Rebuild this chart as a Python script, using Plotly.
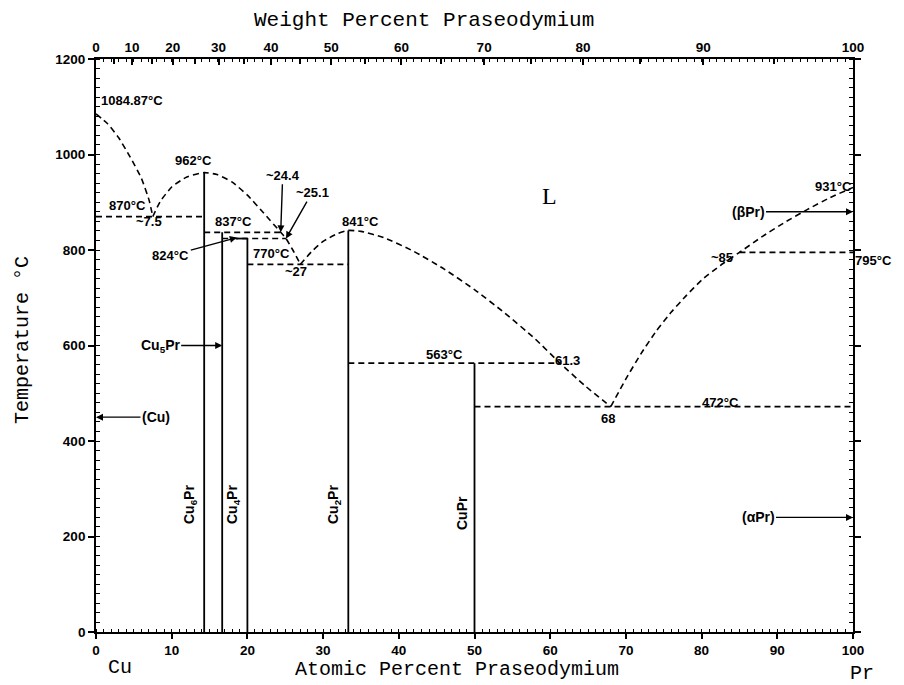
import plotly.graph_objects as go

# ---------------- data ----------------
M_CU, M_PR = 63.546, 140.908

liq1_x = [0, 1.5, 3, 4.5, 6, 7, 7.5]
liq1_T = [1084.87, 1065, 1035, 995, 950, 905, 870]
liq2_x = [7.5, 8.5, 10, 12, 14.29, 16, 18, 20, 22, 24.4, 25.1, 26, 27]
liq2_T = [870, 902, 932, 953, 962, 958, 942, 915, 880, 837, 824, 800, 770]
liq3_x = [27, 28.5, 30, 32, 33.33, 35, 38, 42, 46, 50, 54, 58, 61.3, 64.5, 68]
liq3_T = [770, 797, 818, 835, 841, 839, 826, 797, 760, 717, 668, 614, 563, 517, 472]
liq4_x = [68, 70, 72, 74, 76, 78, 80, 82.5, 85, 88, 91, 94, 97, 100]
liq4_T = [472, 530, 583, 630, 670, 705, 737, 768, 795, 828, 858, 885, 910, 931]

iso_T = [870, 837, 824, 770, 563, 472, 795]
iso_x0 = [0, 14.29, 16.67, 20, 33.33, 50, 85]
iso_x1 = [14.29, 24.4, 25.1, 33.33, 61.3, 100, 100]

comp_names = ["Cu<sub>6</sub>Pr", "Cu<sub>5</sub>Pr", "Cu<sub>4</sub>Pr", "Cu<sub>2</sub>Pr", "CuPr"]
comp_x = [14.29, 16.67, 20, 33.33, 50]
comp_top = [962, 837, 824, 841, 563]

cap_x = [18.5, 20]
cap_T = [824, 824]

at_ticks = list(range(0, 101, 10))
wt_major = list(range(0, 101, 10))
wt_medium = list(range(5, 100, 10))
y_ticks = list(range(0, 1201, 200))

# ---------------- helpers ----------------
OFF = 8  # page body margin
WIN_W, WIN_H = 904, 685
W, H = WIN_W - OFF, WIN_H - OFF
# desired plot box in window pixels: left 96, right 853, top 59, bottom 632
L = 96 - OFF
T = 59 - OFF
R = (OFF + W) - 853
B = (OFF + H) - 632
PW, PH = W - L - R, H - T - B


def wt_to_at(w):
    if w >= 100:
        return 100.0
    a = w / M_PR
    c = (100 - w) / M_CU
    return 100 * a / (a + c)


def px(xp):
    return (xp - OFF - L) / PW


def py(yp):
    return (OFF + H - B - yp) / PH


fig = go.Figure()
dash = "6px,4px"
lw = 1.6

for xs, ts in [(liq1_x, liq1_T), (liq2_x, liq2_T), (liq3_x, liq3_T), (liq4_x, liq4_T)]:
    fig.add_trace(go.Scatter(x=xs, y=ts, mode="lines", line=dict(color="black", width=lw, dash=dash,
                                                                     shape="spline", smoothing=0.5),
                             showlegend=False, hoverinfo="skip"))

ix, iy = [], []
for t, a, b in zip(iso_T, iso_x0, iso_x1):
    ix += [a, b, None]
    iy += [t, t, None]
fig.add_trace(go.Scatter(x=ix, y=iy, mode="lines", line=dict(color="black", width=lw, dash=dash),
                         showlegend=False, hoverinfo="skip"))

vx, vy = [], []
for xc, tt in zip(comp_x, comp_top):
    vx += [xc, xc, None]
    vy += [0, tt, None]
vx += cap_x + [None]
vy += cap_T + [None]
fig.add_trace(go.Scatter(x=vx, y=vy, mode="lines", line=dict(color="black", width=1.8),
                         showlegend=False, hoverinfo="skip"))

# dummy traces for the overlaying top/right axes
fig.add_trace(go.Scatter(x=[0, 100], y=[0, 1200], xaxis="x2", yaxis="y2", mode="markers",
                         marker=dict(opacity=0), showlegend=False, hoverinfo="skip"))
fig.add_trace(go.Scatter(x=[0, 100], y=[0, 1200], xaxis="x3", yaxis="y2", mode="markers",
                         marker=dict(opacity=0), showlegend=False, hoverinfo="skip"))

tickfont = dict(family="Liberation Sans", size=13.5, color="black", weight="bold")
axline = dict(showline=True, linecolor="black", linewidth=1.8, showgrid=False, zeroline=False)

top_vals = [wt_to_at(w) for w in wt_major]
top_text = [str(w) for w in wt_major]
mid_vals = [wt_to_at(w) for w in wt_medium]

fig.update_layout(
    width=W, height=H,
    margin=dict(l=L, r=R, t=T, b=B, autoexpand=False),
    paper_bgcolor="white", plot_bgcolor="white",
    xaxis=dict(range=[0, 100], tickmode="array", tickvals=at_ticks, ticks="outside", ticklen=5,
               tickwidth=1.5, tickcolor="black", tickfont=tickfont,
               minor=dict(tickmode="linear", tick0=0, dtick=1, ticks="inside", ticklen=3,
                          tickwidth=1.2, tickcolor="black"), **axline),
    yaxis=dict(range=[0, 1200], tickmode="array", tickvals=y_ticks, ticks="outside", ticklen=6,
               tickwidth=1.5, tickcolor="black", tickfont=tickfont,
               minor=dict(tickmode="linear", tick0=0, dtick=20, ticks="inside", ticklen=4,
                          tickwidth=1.2, tickcolor="black"), **axline),
    xaxis2=dict(range=[0, 100], overlaying="x", side="top", anchor="y", tickmode="array",
                tickvals=top_vals, ticktext=top_text, ticks="inside", ticklen=6, tickwidth=1.5,
                tickcolor="black", tickfont=tickfont,
                minor=dict(tickmode="linear", tick0=0, dtick=1, ticks="inside", ticklen=3,
                           tickwidth=1.2, tickcolor="black"), **axline),
    xaxis3=dict(range=[0, 100], overlaying="x", side="top", anchor="y", tickmode="array",
                tickvals=mid_vals, ticks="inside", ticklen=5, tickwidth=1.5, tickcolor="black",
                showticklabels=False, showline=False, showgrid=False, zeroline=False),
    yaxis2=dict(range=[0, 1200], overlaying="y", side="right", anchor="x", tickmode="array",
                tickvals=y_ticks, ticks="outside", ticklen=6, tickwidth=1.5, tickcolor="black",
                showticklabels=False,
                minor=dict(tickmode="linear", tick0=0, dtick=20, ticks="inside", ticklen=4,
                           tickwidth=1.2, tickcolor="black"), **axline),
)

ann = []
mono = "Liberation Mono"
lab = dict(family="Liberation Sans", size=13, color="black", weight="bold")


def ptext(text, xp, yp, font, **kw):
    ann.append(dict(text=text, x=px(xp), y=py(yp), xref="paper", yref="paper", showarrow=False,
                    font=font, xanchor=kw.pop("xanchor", "center"), yanchor="middle", **kw))


ptext("Weight Percent Praseodymium", 424, 21, dict(family=mono, size=21, color="black"))
ptext("Atomic Percent Praseodymium", 457, 669, dict(family=mono, size=20, color="black"))
ptext("Cu", 120, 667, dict(family=mono, size=20, color="black"))
ptext("Pr", 862, 673, dict(family=mono, size=20, color="black"))
ptext("Temperature °C", 22, 340, dict(family=mono, size=20, color="black"), textangle=-90)
ptext("L", 549, 196, dict(family="Liberation Serif", size=24, color="black"))

# temperature / composition labels
ptext("1084.87°C", 99, 101, lab, xanchor="left")
ptext("870°C", 127, 205, lab)
ptext("~7.5", 149, 222, lab)
ptext("962°C", 193, 160, lab)
ptext("837°C", 233, 222, lab)
ptext("770°C", 271, 253, lab)
ptext("~27", 296, 271, lab)
ptext("841°C", 360, 222, lab)
ptext("563°C", 444, 354, lab)
ptext("61.3", 567, 360, lab)
ptext("68", 608, 418, lab)
ptext("472°C", 720, 402, lab)
ptext("931°C", 833, 186, lab)
ptext("~85", 722, 257, lab)
ptext("795°C", 873, 260, lab)

# vertical compound labels
vlab = dict(family="Liberation Sans", size=14, color="black", weight="bold")
ptext("Cu<sub>6</sub>Pr", 190, 505, vlab, textangle=-90)
ptext("Cu<sub>4</sub>Pr", 233, 505, vlab, textangle=-90)
ptext("Cu<sub>2</sub>Pr", 334, 505, vlab, textangle=-90)
ptext("CuPr", 462, 513, vlab, textangle=-90)

# arrows
arr = dict(showarrow=True, arrowhead=2, arrowsize=1, arrowwidth=1.4, arrowcolor="black",
           xref="x", yref="y", axref="pixel", ayref="pixel")
afont = dict(family="Liberation Sans", size=14, color="black", weight="bold")
ann.append(dict(text="(Cu)", x=0, y=450, ax=60, ay=0, font=afont, **arr))
ann.append(dict(text="Cu<sub>5</sub>Pr", x=16.67, y=600, ax=-62, ay=0, font=afont, **arr))
ann.append(dict(text="(βPr)", x=100, y=880, ax=-105, ay=0, font=afont, **arr))
ann.append(dict(text="(αPr)", x=100, y=240, ax=-95, ay=0, font=afont, **arr))
ann.append(dict(text="~24.4", x=24.4, y=837, ax=2, ay=-57, font=lab, **arr))
ann.append(dict(text="~25.1", x=25.1, y=824, ax=26, ay=-46, font=lab, **arr))
ann.append(dict(text="824°C", x=18.6, y=826, ax=-66, ay=18, font=lab, **arr))

fig.update_layout(annotations=ann)
fig.write_html("out.html")
